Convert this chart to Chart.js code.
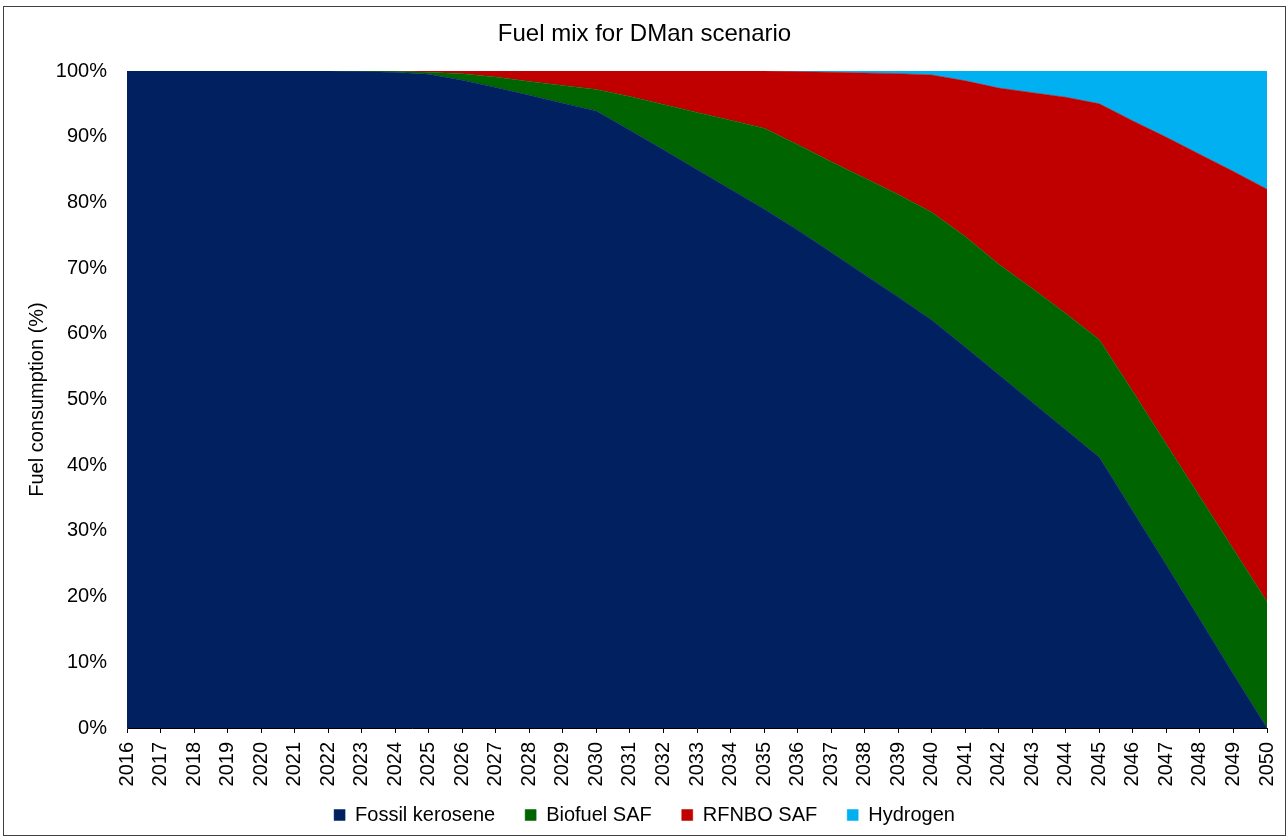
<!DOCTYPE html>
<html>
<head>
<meta charset="utf-8">
<title>Fuel mix for DMan scenario</title>
<script src="https://cdn.jsdelivr.net/npm/chart.js@4.4.1/dist/chart.umd.min.js"></script>
<style>
  html, body { margin: 0; padding: 0; background: #ffffff; }
  #wrap { position: relative; width: 1288px; height: 838px; }
  canvas { display: block; }
</style>
</head>
<body>
<div id="wrap"><canvas id="chart" width="1288" height="838"></canvas></div>
<script>
// Years on the horizontal axis
const years = [
  '2016','2017','2018','2019','2020','2021','2022','2023','2024','2025',
  '2026','2027','2028','2029','2030','2031','2032','2033','2034','2035',
  '2036','2037','2038','2039','2040','2041','2042','2043','2044','2045',
  '2046','2047','2048','2049','2050'
];

// Share of total fuel consumption (%) per fuel type
const fossilKerosene = [
  100, 100, 100, 100, 100, 100, 100, 99.9, 99.8, 99.5,
  98.6, 97.5, 96.3, 95.1, 93.9, 91.0, 88.0, 85.0, 82.0, 79.0,
  75.8, 72.4, 69.0, 65.6, 62.1, 58.0, 53.8, 49.6, 45.4, 41.2,
  33.0, 24.8, 16.5, 8.2, 0
];
const biofuelSaf = [
  0, 0, 0, 0, 0, 0, 0, 0.1, 0.15, 0.3,
  1.0, 1.6, 2.1, 2.7, 3.3, 5.1, 6.9, 8.7, 10.5, 12.3,
  13.0, 13.8, 14.7, 15.6, 16.4, 16.8, 16.8, 17.3, 17.7, 17.9,
  18.2, 18.4, 18.7, 19.0, 19.2
];
const rfnboSaf = [
  0, 0, 0, 0, 0, 0, 0, 0, 0.05, 0.2,
  0.4, 0.9, 1.6, 2.2, 2.8, 3.9, 5.1, 6.3, 7.5, 8.7,
  11.1, 13.6, 16.0, 18.4, 20.9, 23.7, 26.8, 29.8, 32.9, 35.9,
  41.2, 46.7, 52.1, 57.5, 62.8
];
const hydrogen = [
  0, 0, 0, 0, 0, 0, 0, 0, 0, 0,
  0, 0, 0, 0, 0, 0, 0, 0, 0, 0,
  0.1, 0.2, 0.3, 0.4, 0.6, 1.5, 2.6, 3.3, 4.0, 5.0,
  7.6, 10.1, 12.7, 15.3, 18.0
];

// Vertical axis ticks
const percentTicks = [0, 10, 20, 30, 40, 50, 60, 70, 80, 90, 100];

const FONT = "'Liberation Sans', Arial, Helvetica, sans-serif";

function area(label, data, color, fill) {
  return {
    label: label,
    data: data,
    backgroundColor: color,
    borderColor: color,
    borderWidth: 0.5,
    pointRadius: 0,
    pointHoverRadius: 0,
    tension: 0,
    fill: fill
  };
}

// White background and thin frame around the whole chart
const framePlugin = {
  id: 'frame',
  afterLayout(chart) {
    // let the rotated year labels extend past the fitted axis height
    const x = chart.scales.x;
    x.bottom = x.top + 70;
  },
  beforeDraw(chart) {
    const ctx = chart.ctx;
    ctx.save();
    ctx.fillStyle = '#ffffff';
    ctx.fillRect(0, 0, chart.width, chart.height);
    ctx.restore();
  },
  afterDraw(chart) {
    const ctx = chart.ctx;
    ctx.save();
    ctx.strokeStyle = '#404040';
    ctx.lineWidth = 1;
    ctx.strokeRect(3.5, 6.5, chart.width - 6, chart.height - 9);
    ctx.restore();
  }
};

new Chart(document.getElementById('chart'), {
  type: 'line',
  data: {
    labels: years,
    datasets: [
      area('Fossil kerosene', fossilKerosene, '#002060', 'origin'),
      area('Biofuel SAF', biofuelSaf, '#006400', '-1'),
      area('RFNBO SAF', rfnboSaf, '#C00000', '-1'),
      area('Hydrogen', hydrogen, '#00B0F0', '-1')
    ]
  },
  options: {
    responsive: false,
    animation: false,
    layout: { padding: { left: 22, right: 21, top: 0, bottom: 3 } },
    interaction: { mode: 'index', intersect: false },
    plugins: {
      title: {
        display: true,
        text: 'Fuel mix for DMan scenario',
        color: '#000000',
        font: { family: FONT, size: 24, weight: 'normal' },
        padding: { top: 19.6, bottom: 22.6 }
      },
      legend: {
        display: true,
        position: 'bottom',
        labels: {
          color: '#000000',
          font: { family: FONT, size: 20 },
          boxWidth: 11,
          boxHeight: 11,
          padding: 30
        }
      },
      tooltip: { enabled: false }
    },
    scales: {
      x: {
        type: 'category',
        offset: false,
        grid: {
          display: true,
          drawOnChartArea: false,
          drawTicks: true,
          tickLength: 5,
          color: '#000000'
        },
        border: { display: true, color: '#000000', width: 1 },
        ticks: {
          autoSkip: false,
          maxRotation: 90,
          minRotation: 90,
          padding: 9,
          color: '#000000',
          font: { family: FONT, size: 20 }
        },
        afterFit(scale) {
          scale.height = 47;
          scale.paddingLeft = 0;
          scale.paddingRight = 0;
        }
      },
      y: {
        stacked: true,
        min: 0,
        max: 100,
        grid: { display: false, drawTicks: false },
        border: { display: true, color: '#404040', width: 1 },
        title: {
          display: true,
          text: 'Fuel consumption (%)',
          color: '#000000',
          font: { family: FONT, size: 20 },
          padding: { top: 3, bottom: 0 }
        },
        afterBuildTicks(scale) {
          scale.ticks = percentTicks.map(v => ({ value: v }));
        },
        ticks: {
          padding: 20,
          color: '#000000',
          font: { family: FONT, size: 20 },
          callback: v => v + '%'
        },
        afterFit(scale) {
          scale.width = 105;
          scale.paddingTop = 0;
          scale.paddingBottom = 0;
        }
      }
    }
  },
  plugins: [framePlugin]
});
</script>
</body>
</html>
